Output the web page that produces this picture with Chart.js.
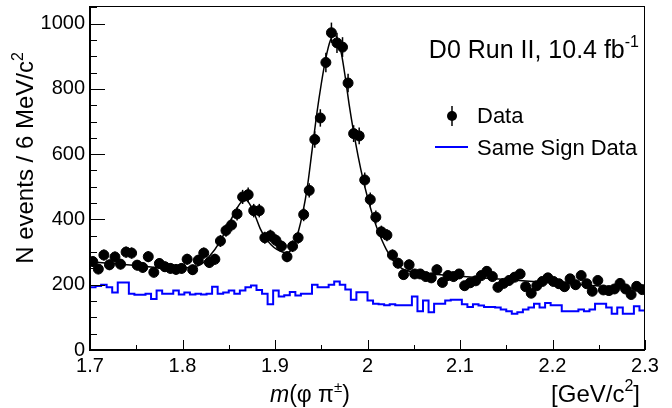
<!DOCTYPE html>
<html>
<head>
<meta charset="utf-8">
<script src="https://cdn.jsdelivr.net/npm/chart.js@4.4.1/dist/chart.umd.min.js"></script>
<style>
  html, body { margin: 0; padding: 0; background: #fff; overflow: hidden; }
  #wrap { width: 672px; height: 408px; position: relative; }
</style>
</head>
<body>
<div id="wrap"><canvas id="massChart" width="672" height="408"></canvas></div>
<script>
// histogram binning: 100 bins of 6 MeV from 1.7 to 2.3 GeV
const binStart = 1.7;
const binWidth = 0.006;

// data counts per bin
const dataCounts = [
  271, 248, 291, 261, 285, 263, 300, 297, 260, 253,
  286, 238, 265, 255, 250, 247, 250, 278, 246, 275,
  297, 268, 278, 334, 366, 383, 417, 469, 476, 427,
  427, 344, 350, 336, 318, 286, 318, 344, 415, 489,
  645, 711, 881, 972, 941, 928, 818, 663, 656, 521,
  461, 407, 362, 352, 291, 266, 231, 261, 233, 233,
  225, 221, 246, 207, 228, 225, 233, 197, 206, 212,
  228, 241, 225, 192, 204, 213, 223, 233, 194, 174,
  197, 210, 221, 210, 203, 194, 218, 200, 228, 203,
  180, 213, 184, 182, 187, 204, 187, 170, 195, 185
];

// same sign data histogram
const sameSign = [
  192, 196, 200, 192, 176, 207, 207, 172, 169, 169,
  172, 156, 182, 172, 172, 182, 170, 176, 170, 172,
  170, 172, 194, 172, 176, 182, 172, 182, 192, 198,
  184, 172, 140, 182, 164, 168, 178, 167, 172, 172,
  200, 192, 192, 200, 210, 200, 185, 154, 177, 177,
  152, 142, 140, 137, 140, 137, 137, 137, 164, 119,
  152, 116, 142, 142, 152, 154, 154, 140, 132, 140,
  136, 132, 132, 130, 124, 119, 111, 116, 124, 130,
  142, 130, 144, 137, 137, 119, 119, 119, 124, 119,
  124, 142, 142, 130, 111, 130, 111, 111, 134, 121
];

// fit curve, read at these masses
const fitMass = [
  1.700, 1.720, 1.740, 1.760, 1.780, 1.800, 1.810, 1.820, 1.830, 1.840,
  1.850, 1.858, 1.864, 1.868, 1.872, 1.878, 1.884, 1.890, 1.896, 1.902,
  1.908, 1.913, 1.917, 1.921, 1.925, 1.930, 1.935, 1.940, 1.945, 1.950,
  1.955, 1.960, 1.964, 1.968, 1.972, 1.976, 1.980, 1.985, 1.990, 1.995,
  2.000, 2.005, 2.010, 2.015, 2.020, 2.025, 2.030, 2.035, 2.040, 2.050,
  2.070, 2.100, 2.150, 2.200, 2.250, 2.300
];
const fitValues = [
  270, 266, 261, 256, 252, 251, 254, 262, 290, 330,
  385, 430, 455, 460, 450, 415, 372, 342, 322, 308,
  300, 298, 305, 325, 360, 420, 500, 610, 720, 815,
  895, 950, 965, 950, 905, 835, 755, 668, 592, 525,
  468, 418, 375, 340, 310, 286, 267, 254, 246, 239,
  233, 226, 216, 206, 196, 187
];

const xTicks = [1.7, 1.8, 1.9, 2.0, 2.1, 2.2, 2.3];
const yTicks = [0, 200, 400, 600, 800, 1000];

const FONT = "'Liberation Sans', Arial, Helvetica, sans-serif";

// points for chart.js
const dataPoints = dataCounts.map((v, i) => ({ x: binStart + (i + 0.5) * binWidth, y: v }));
const ssPoints = sameSign.map((v, i) => ({ x: binStart + i * binWidth, y: v }));
ssPoints.push({ x: binStart + sameSign.length * binWidth, y: sameSign[sameSign.length - 1] });
const fitPoints = fitMass.map((m, i) => ({ x: m, y: fitValues[i] }));

// writes base text followed by a raised smaller piece, returns end x
function textWithSup(ctx, base, sup, x, y, size, supSize, rise) {
  ctx.font = size + 'px ' + FONT;
  ctx.fillText(base, x, y);
  x += ctx.measureText(base).width;
  ctx.font = supSize + 'px ' + FONT;
  ctx.fillText(sup, x, y - rise);
  return x + ctx.measureText(sup).width;
}

// frame, inward ticks, error bars, titles and legend
const rootStyle = {
  id: 'rootStyle',
  afterDatasetsDraw(chart) {
    const ctx = chart.ctx;
    const xs = chart.scales.x, ys = chart.scales.y;
    ctx.save();
    // error bars
    ctx.strokeStyle = '#000';
    ctx.lineWidth = 1.5;
    dataPoints.forEach(p => {
      const e = Math.sqrt(p.y);
      const px = xs.getPixelForValue(p.x);
      ctx.beginPath();
      ctx.moveTo(px, ys.getPixelForValue(p.y - e));
      ctx.lineTo(px, ys.getPixelForValue(p.y + e));
      ctx.stroke();
    });
    ctx.restore();
  },
  afterDraw(chart) {
    const ctx = chart.ctx;
    const xs = chart.scales.x, ys = chart.scales.y;
    const a = chart.chartArea;
    ctx.save();
    // frame
    ctx.strokeStyle = '#000';
    ctx.lineWidth = 1;
    ctx.strokeRect(a.left + 0.5, a.top + 0.5, a.right - a.left - 1, a.bottom - a.top - 1);
    ctx.lineWidth = 2;
    ctx.beginPath();
    ctx.moveTo(a.left, a.top); ctx.lineTo(a.left, a.bottom); ctx.lineTo(a.right, a.bottom);
    ctx.stroke();
    // x ticks (major 0.1, minor 0.05)
    ctx.lineWidth = 1;
    for (let k = 0; k <= 12; k++) {
      const v = 1.7 + k * 0.05;
      const px = Math.round(xs.getPixelForValue(v)) + 0.5;
      const len = k % 2 === 0 ? 10 : 5;
      ctx.beginPath();
      ctx.moveTo(px, a.bottom); ctx.lineTo(px, a.bottom - len);
      ctx.stroke();
    }
    // y ticks (major 200, minor 50)
    for (let v = 0; v <= 1050; v += 50) {
      const py = Math.round(ys.getPixelForValue(v)) + 0.5;
      const len = v % 200 === 0 ? 15 : 7;
      ctx.beginPath();
      ctx.moveTo(a.left, py); ctx.lineTo(a.left + len, py);
      ctx.stroke();
    }

    ctx.fillStyle = '#000';
    ctx.textBaseline = 'alphabetic';
    ctx.textAlign = 'left';

    // y axis title
    ctx.save();
    ctx.translate(33, 158);
    ctx.rotate(-Math.PI / 2);
    ctx.font = '24px ' + FONT;
    const yt = 'N events / 6 MeV/c';
    const ytw = ctx.measureText(yt).width;
    ctx.font = '16px ' + FONT;
    const ysw = ctx.measureText('2').width;
    textWithSup(ctx, yt, '2', -(ytw + ysw) / 2, 0, 24, 16, 10);
    ctx.restore();

    // x axis title
    let x = 270;
    const by = 402;
    ctx.font = 'italic 23px ' + FONT;
    ctx.fillText('m', x, by); x += ctx.measureText('m').width;
    x = textWithSup(ctx, '(\u03c6 \u03c0', '\u00b1', x, by, 23, 15, 10);
    ctx.font = '23px ' + FONT;
    ctx.fillText(')', x, by);

    // unit
    ctx.font = '24px ' + FONT;
    const u1w = ctx.measureText('[GeV/c').width;
    const u3w = ctx.measureText(']').width;
    ctx.font = '16px ' + FONT;
    const u2w = ctx.measureText('2').width;
    x = textWithSup(ctx, '[GeV/c', '2', 640 - u1w - u2w - u3w, by, 24, 16, 11);
    ctx.font = '24px ' + FONT;
    ctx.fillText(']', x, by);

    // experiment label
    ctx.font = '25px ' + FONT;
    const lab = 'D0 Run II, 10.4 fb';
    const labw = ctx.measureText(lab).width;
    ctx.font = '16px ' + FONT;
    const labSupW = ctx.measureText('-1').width;
    textWithSup(ctx, lab, '-1', 639 - labw - labSupW, 58, 25, 16, 11);

    // legend
    ctx.beginPath();
    ctx.arc(452, 116, 5, 0, Math.PI * 2);
    ctx.fill();
    ctx.lineWidth = 1.5;
    ctx.beginPath();
    ctx.moveTo(452, 106); ctx.lineTo(452, 126);
    ctx.stroke();
    ctx.font = '22px ' + FONT;
    ctx.fillText('Data', 477, 123);
    ctx.strokeStyle = '#0000ff';
    ctx.lineWidth = 2;
    ctx.beginPath();
    ctx.moveTo(435, 147); ctx.lineTo(468, 147);
    ctx.stroke();
    ctx.fillText('Same Sign Data', 477, 155);
    ctx.restore();
  }
};

const ctx = document.getElementById('massChart').getContext('2d');

const massChart = new Chart(ctx, {
  type: 'scatter',
  data: {
    datasets: [
      {
        label: 'Same Sign Data',
        type: 'line',
        data: ssPoints,
        stepped: 'before',
        borderColor: '#0000ff',
        borderWidth: 2,
        pointRadius: 0,
        fill: false,
        order: 3
      },
      {
        label: 'Fit',
        type: 'line',
        data: fitPoints,
        borderColor: '#000',
        borderWidth: 1.5,
        pointRadius: 0,
        cubicInterpolationMode: 'monotone',
        fill: false,
        order: 2
      },
      {
        label: 'Data',
        data: dataPoints,
        backgroundColor: '#000',
        borderColor: '#000',
        pointRadius: 5,
        pointHoverRadius: 5,
        order: 1
      }
    ]
  },
  options: {
    responsive: false,
    animation: false,
    devicePixelRatio: 1,
    layout: { padding: { left: 0, right: 27, top: 3, bottom: 0 } },
    plugins: { legend: { display: false }, tooltip: { enabled: false } },
    scales: {
      x: {
        type: 'linear',
        min: 1.7,
        max: 2.3,
        grid: { display: false, drawTicks: false },
        border: { display: false },
        afterFit: s => { s.height = 58; s.paddingLeft = 0; s.paddingRight = 0; },
        afterBuildTicks: s => { s.ticks = xTicks.map(v => ({ value: v })); },
        ticks: {
          padding: 4,
          color: '#000',
          font: { family: FONT, size: 20 },
          maxRotation: 0,
          autoSkip: false,
          callback: v => String(+v.toFixed(2))
        }
      },
      y: {
        min: 0,
        max: 1054,
        grid: { display: false, drawTicks: false },
        border: { display: false },
        afterFit: s => { s.width = 90; s.paddingTop = 0; s.paddingBottom = 0; },
        afterBuildTicks: s => { s.ticks = yTicks.map(v => ({ value: v })); },
        ticks: {
          padding: 5,
          color: '#000',
          font: { family: FONT, size: 20 },
          autoSkip: false,
          callback: v => String(v)
        }
      }
    }
  },
  plugins: [rootStyle]
});
</script>
</body>
</html>
